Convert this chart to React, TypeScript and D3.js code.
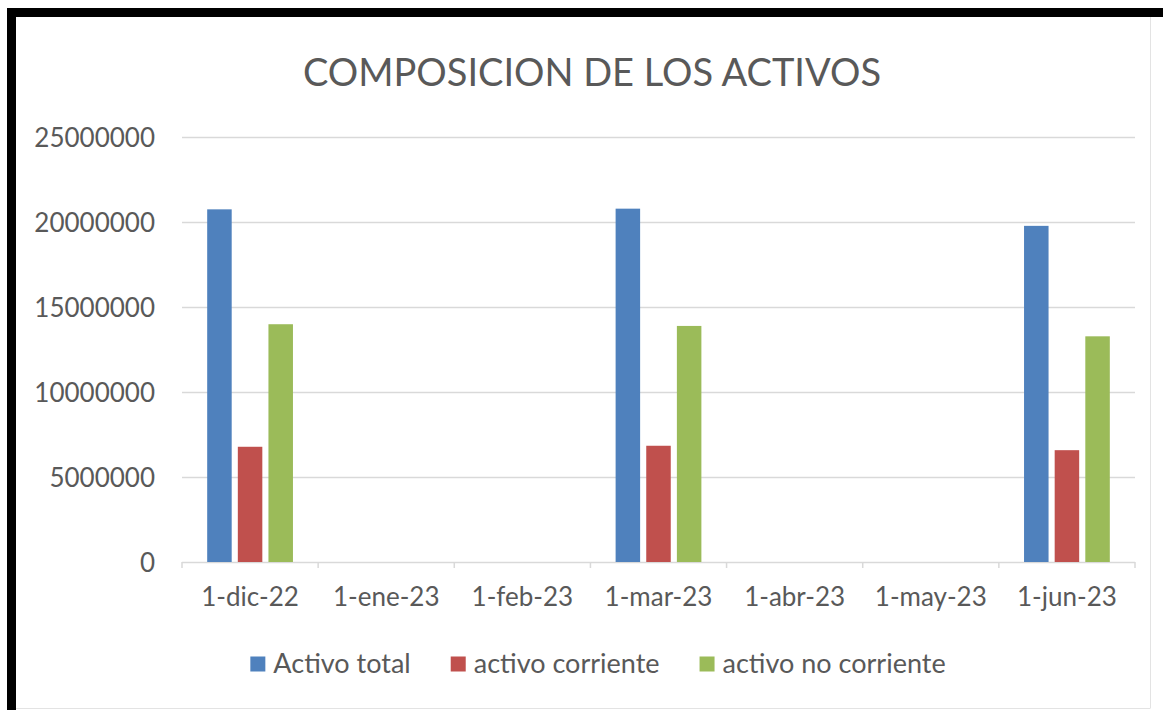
import React, { useRef, useEffect } from "react";
import * as d3 from "d3";

// Chart data
const categories = ["1-dic-22", "1-ene-23", "1-feb-23", "1-mar-23", "1-abr-23", "1-may-23", "1-jun-23"];
const seriesNames = ["Activo total", "activo corriente", "activo no corriente"];
const activoTotal = [20720000, null, null, 20760000, null, null, 19750000];
const activoCorriente = [6770000, null, null, 6830000, null, null, 6570000];
const activoNoCorriente = [13970000, null, null, 13870000, null, null, 13260000];
const yTicks = [0, 5000000, 10000000, 15000000, 20000000, 25000000];
const colors = ["#4f81bd", "#c0504d", "#9bbb59"];

const W = 1163;
const H = 710;
const FONT = "Lato, 'Open Sans', sans-serif";
const TEXT = "#595959";
const GRID = "#d9d9d9";

export default function App() {
  const svgRef = useRef<SVGSVGElement>(null);

  useEffect(() => {
    const svg = d3.select(svgRef.current);
    svg.selectAll("*").remove();

    // frame: white chart area with thick black left/top edges
    svg.append("rect").attr("width", W).attr("height", H).attr("fill", "#fff");
    svg.append("rect").attr("x", 7).attr("y", 8).attr("width", 9).attr("height", H - 8).attr("fill", "#000");
    svg.append("rect").attr("x", 7).attr("y", 8).attr("width", W - 7).attr("height", 9).attr("fill", "#000");
    svg.append("line").attr("x1", 1150.5).attr("x2", 1150.5).attr("y1", 17).attr("y2", 708)
      .attr("stroke", "#e3e3e3");
    svg.append("line").attr("x1", 16).attr("x2", 1150.5).attr("y1", 708.5).attr("y2", 708.5)
      .attr("stroke", "#e3e3e3");

    // title
    svg.append("text")
      .attr("x", 592)
      .attr("y", 86)
      .attr("text-anchor", "middle")
      .attr("fill", TEXT)
      .attr("font-family", FONT)
      .attr("font-size", "38px")
      .text("COMPOSICION DE LOS ACTIVOS");

    const left = 182, right = 1135, top = 136.5, bottom = 562;

    const y = d3.scaleLinear().domain([0, 25000000]).range([bottom, top]);
    const x0 = d3.scaleBand<string>().domain(categories).range([left, right]).padding(0);
    const groupW = x0.bandwidth() * 0.63;
    const x1 = d3.scaleBand<string>().domain(seriesNames).range([0, groupW]).paddingInner(0.2);

    // gridlines + y labels
    const g = svg.append("g");
    yTicks.forEach((t) => {
      const yy = Math.round(y(t)) + 0.5;
      g.append("line").attr("x1", left).attr("x2", right).attr("y1", yy).attr("y2", yy)
        .attr("stroke", GRID).attr("stroke-width", 1.5);
      g.append("text")
        .attr("x", 155)
        .attr("y", yy)
        .attr("dy", "0.36em")
        .attr("text-anchor", "end")
        .attr("fill", TEXT)
        .attr("font-family", FONT)
        .attr("font-size", "26px")
        .text(String(t));
    });

    // tick marks between categories
    const bounds = categories.map((c) => x0(c)!).concat([right]);
    bounds.forEach((bx) => {
      g.append("line").attr("x1", bx).attr("x2", bx).attr("y1", bottom).attr("y2", bottom + 6)
        .attr("stroke", GRID).attr("stroke-width", 1.5);
    });

    // x labels
    categories.forEach((c) => {
      g.append("text")
        .attr("x", x0(c)! + x0.bandwidth() / 2)
        .attr("y", 606)
        .attr("text-anchor", "middle")
        .attr("fill", TEXT)
        .attr("font-family", FONT)
        .attr("font-size", "26px")
        .text(c);
    });

    // bars
    const series = [activoTotal, activoCorriente, activoNoCorriente];
    series.forEach((vals, si) => {
      vals.forEach((v, ci) => {
        if (v == null) return;
        const gx = x0(categories[ci])! + (x0.bandwidth() - groupW) / 2;
        g.append("rect")
          .attr("x", gx + x1(seriesNames[si])!)
          .attr("y", y(v))
          .attr("width", x1.bandwidth())
          .attr("height", bottom - y(v))
          .attr("fill", colors[si]);
      });
    });

    // legend, centered
    const leg = svg.append("g");
    const items = seriesNames.map((name, i) => {
      const item = leg.append("g");
      item.append("rect").attr("width", 15).attr("height", 15).attr("y", -7.5).attr("fill", colors[i]);
      const txt = item.append("text")
        .attr("x", 23)
        .attr("dy", "0.35em")
        .attr("fill", TEXT)
        .attr("font-family", FONT)
        .attr("font-size", "27px")
        .text(name);
      const w = 23 + (txt.node() as SVGTextElement).getComputedTextLength();
      return { item, w };
    });
    const gap = 40;
    const total = d3.sum(items, (d) => d.w) + gap * (items.length - 1);
    let lx = 598 - total / 2;
    items.forEach(({ item, w }) => {
      item.attr("transform", `translate(${lx},664)`);
      lx += w + gap;
    });
  }, []);

  return (
    <div style={{ position: "fixed", left: 0, top: 0 }}>
      <svg ref={svgRef} width={W} height={H} style={{ display: "block" }} />
    </div>
  );
}
